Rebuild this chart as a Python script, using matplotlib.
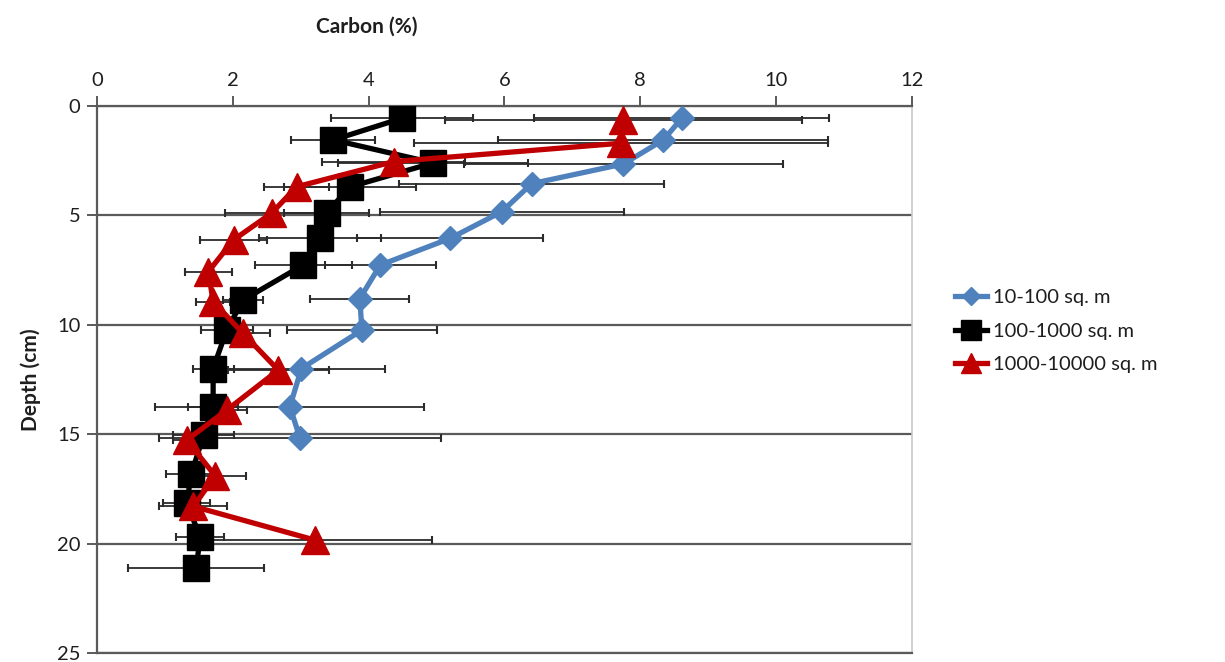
import numpy as np
import matplotlib
matplotlib.use("Agg")
from matplotlib import pyplot as plt

plt.rcParams['font.family'] = ['Lato', 'DejaVu Sans']

# carbon content (%) vs soil depth (cm), mean +/- error, by plot area
blue_label = "10-100 sq. m"
blue_carbon = [8.61, 8.34, 7.75, 6.40, 5.96, 5.20, 4.17, 3.87, 3.90, 3.01, 2.84, 2.99]
blue_depth = [0.56, 1.55, 2.65, 3.55, 4.83, 6.05, 7.27, 8.80, 10.24, 12.0, 13.74, 15.19]
blue_err = [2.17, 2.43, 2.35, 1.95, 1.80, 1.37, 0.82, 0.73, 1.10, 1.23, 1.98, 2.08]

black_label = "100-1000 sq. m"
black_carbon = [4.49, 3.48, 4.95, 3.72, 3.38, 3.28, 3.04, 2.15, 1.91, 1.71, 1.71, 1.57,
                1.39, 1.32, 1.52, 1.46]
black_depth = [0.56, 1.55, 2.60, 3.70, 4.90, 6.05, 7.26, 8.87, 10.24, 12.0, 13.74, 15.04,
               16.8, 18.16, 19.68, 21.13]
black_err = [1.05, 0.62, 1.40, 0.97, 0.62, 0.90, 0.71, 0.30, 0.38, 0.30, 0.37, 0.45,
             0.37, 0.35, 0.35, 1.00]

red_label = "1000-10000 sq. m"
red_carbon = [7.75, 7.72, 4.37, 2.94, 2.57, 2.01, 1.64, 1.71, 2.15, 2.67, 1.91, 1.32,
              1.74, 1.42, 3.21]
red_depth = [0.64, 1.70, 2.54, 3.69, 4.90, 6.12, 7.57, 8.94, 10.39, 12.07, 13.9, 15.27,
             16.9, 18.3, 19.84]
red_err = [2.63, 3.05, 1.05, 0.48, 0.69, 0.50, 0.35, 0.25, 0.40, 0.74, 0.30, 0.20,
           0.45, 0.50, 1.72]

x_ticks = [0, 2, 4, 6, 8, 10, 12]
y_ticks = [0, 5, 10, 15, 20, 25]

W, H = 1225, 662
fig = plt.figure(figsize=(W / 100, H / 100), dpi=100)
ax = fig.add_axes([97 / W, 1 - 653 / H, (912 - 97) / W, (653 - 106) / H])

grid_c = '#5a5a5a'
text_c = '#1e1e1e'

# error bars sit underneath the series lines
for xs, ys, es in [(blue_carbon, blue_depth, blue_err),
                   (black_carbon, black_depth, black_err),
                   (red_carbon, red_depth, red_err)]:
    ax.errorbar(xs, ys, xerr=es, fmt='none', ecolor='#2b2b2b', elinewidth=1.3,
                capsize=3, capthick=1.5, zorder=2)

ax.plot(blue_carbon, blue_depth, color='#4f81bd', lw=3.8, marker='D', ms=12,
        label=blue_label, zorder=3)
ax.plot(black_carbon, black_depth, color='#000000', lw=3.8, marker='s', ms=19,
        label=black_label, zorder=4)
ax.plot(red_carbon, red_depth, color='#c00000', lw=3.8, marker='^', ms=20,
        label=red_label, zorder=5)

ax.set_xlim(0, 12)
ax.set_ylim(25, 0)
ax.set_xticks(x_ticks)
ax.set_yticks(y_ticks)
ax.xaxis.tick_top()
ax.tick_params(axis='x', direction='out', length=7, width=1.4, color=grid_c,
               labelsize=14.5, labelcolor=text_c, pad=5)
ax.tick_params(axis='y', direction='out', length=7, width=1.4, color=grid_c,
               labelsize=14.5, labelcolor=text_c, pad=5)

ax.yaxis.grid(True, color=grid_c, lw=1.6)
ax.set_axisbelow(True)
for s in ['top', 'bottom', 'left']:
    ax.spines[s].set_color(grid_c)
    ax.spines[s].set_linewidth(1.6)
ax.spines['right'].set_color('#c8c8c8')
ax.spines['right'].set_linewidth(1.2)

fig.text(367 / W, 1 - 27 / H, "Carbon (%)", ha='center', va='center',
         fontsize=15, fontweight='bold', color=text_c)
fig.text(31 / W, 1 - 380 / H, "Depth (cm)", ha='center', va='center', rotation=90,
         fontsize=15, fontweight='bold', color=text_c)

leg = fig.legend(loc='center left', bbox_to_anchor=(955 / W, 1 - 331 / H), frameon=False,
                 fontsize=14.5, handlelength=1.6, handletextpad=0.3, labelspacing=0.8,
                 borderpad=0, borderaxespad=0, markerscale=0.75)
for t in leg.get_texts():
    t.set_color(text_c)

fig.savefig("out.png", dpi=100)
